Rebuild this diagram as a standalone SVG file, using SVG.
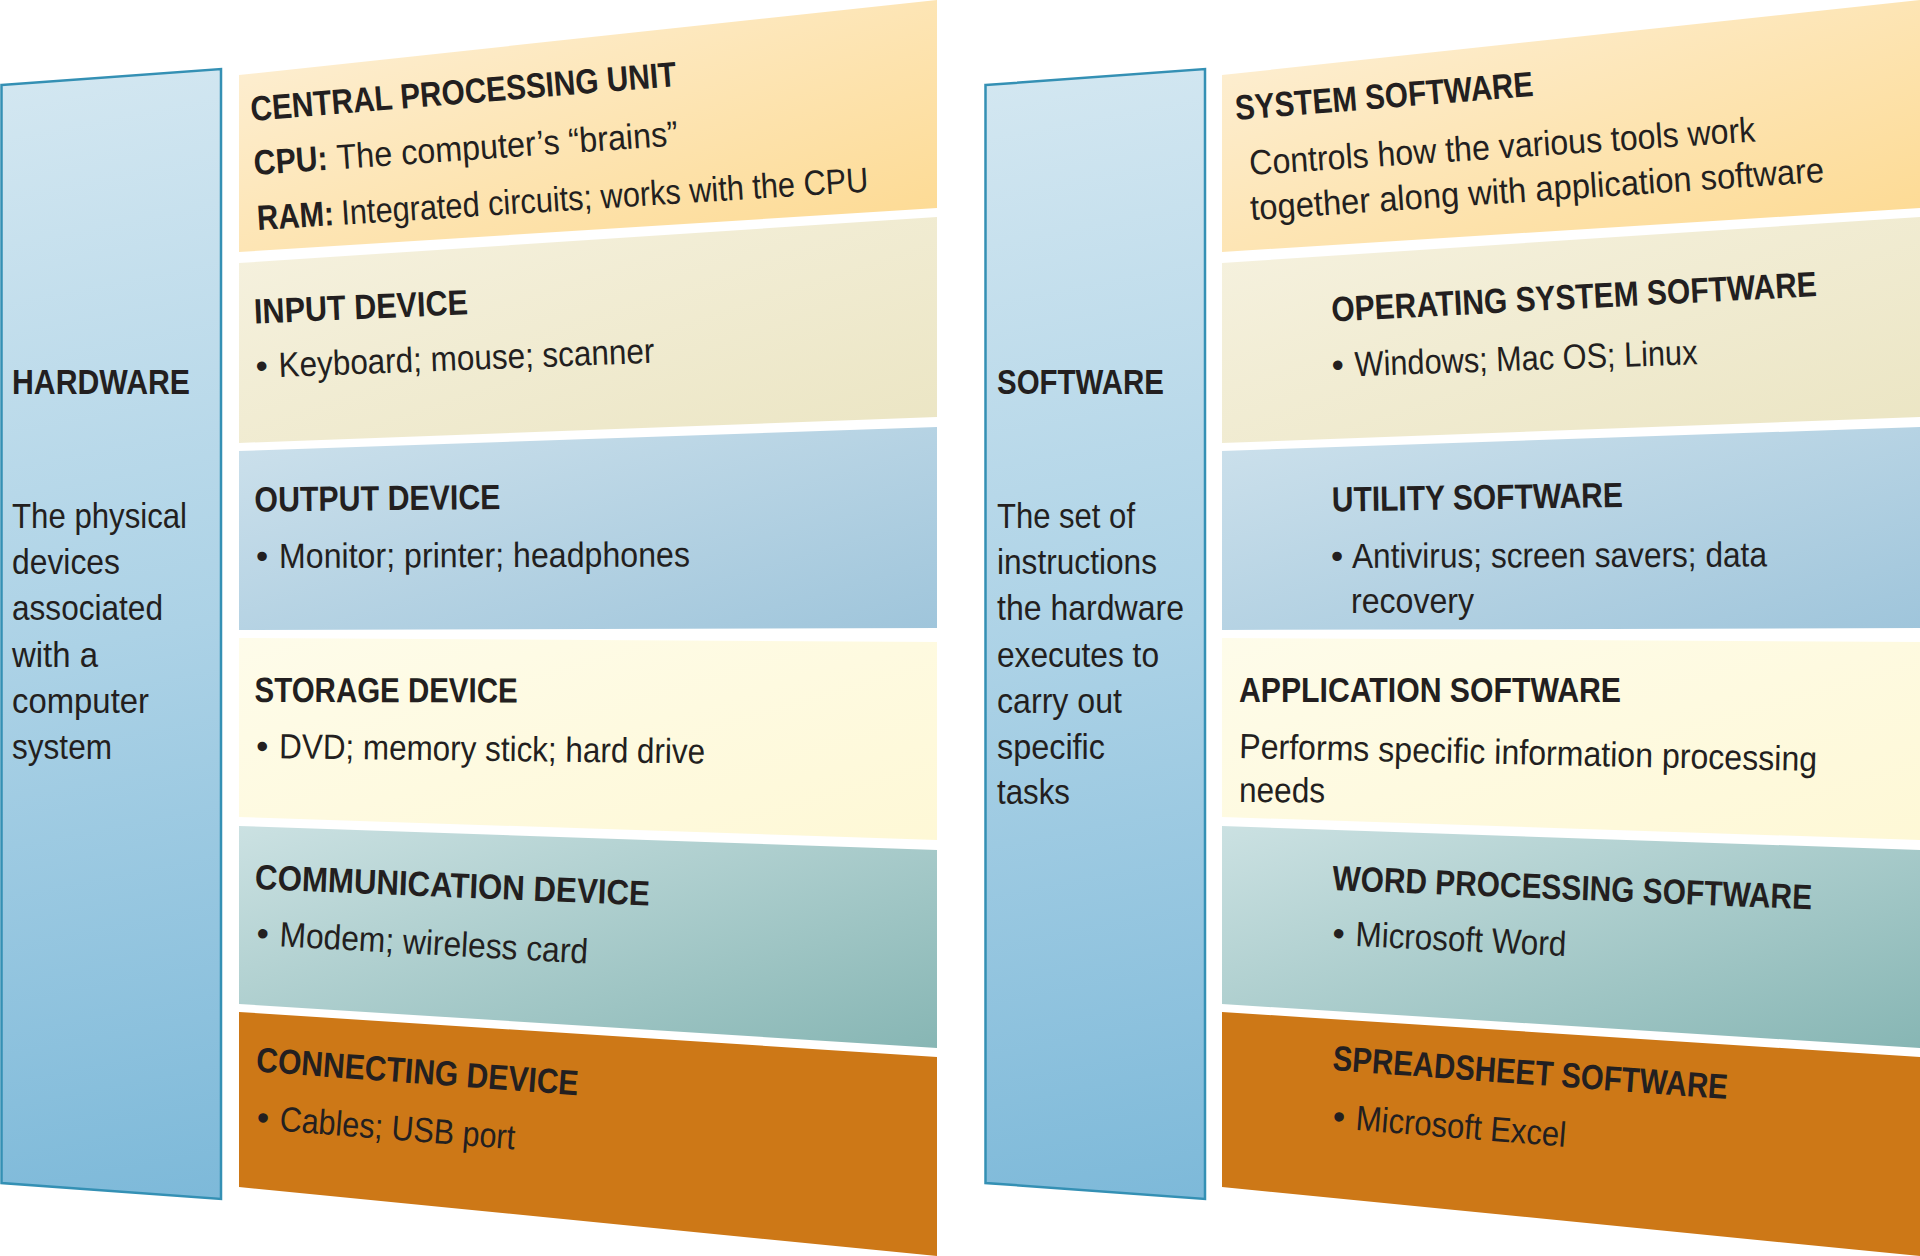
<svg xmlns="http://www.w3.org/2000/svg" width="1920" height="1256" viewBox="0 0 1920 1256">
<defs>
<linearGradient id="gPanel" gradientUnits="userSpaceOnUse" x1="0" y1="80" x2="220" y2="1200">
<stop offset="0" stop-color="#d3e7f1"/>
<stop offset="0.5" stop-color="#acd2e6"/>
<stop offset="1" stop-color="#7db9d9"/>
</linearGradient>
<linearGradient id="gPanel2" gradientUnits="userSpaceOnUse" x1="984" y1="80" x2="1204" y2="1200">
<stop offset="0" stop-color="#d3e7f1"/>
<stop offset="0.5" stop-color="#acd2e6"/>
<stop offset="1" stop-color="#7db9d9"/>
</linearGradient>
<linearGradient id="g1" x1="0" y1="0" x2="1" y2="1">
<stop offset="0" stop-color="#fdf1da"/>
<stop offset="1" stop-color="#fdd98f"/>
</linearGradient>
<linearGradient id="g2" x1="0" y1="0" x2="1" y2="1">
<stop offset="0" stop-color="#f6f2e0"/>
<stop offset="1" stop-color="#ebe5c3"/>
</linearGradient>
<linearGradient id="g3" x1="0" y1="0" x2="1" y2="1">
<stop offset="0" stop-color="#cde1ec"/>
<stop offset="1" stop-color="#9fc5db"/>
</linearGradient>
<linearGradient id="g4" x1="0" y1="0" x2="1" y2="1">
<stop offset="0" stop-color="#fefcea"/>
<stop offset="1" stop-color="#fef8d6"/>
</linearGradient>
<linearGradient id="g5" x1="0" y1="0" x2="1" y2="1">
<stop offset="0" stop-color="#cbe1e2"/>
<stop offset="1" stop-color="#87b6b4"/>
</linearGradient>
</defs>
<style>
text{font-family:"Liberation Sans",Arial,sans-serif;font-size:35px;fill:#231f20}
.h,.b{font-weight:bold}
.panel{stroke:#3490b4;stroke-width:2.5}
.b1{fill:url(#g1)}.b2{fill:url(#g2)}.b3{fill:url(#g3)}.b4{fill:url(#g4)}.b5{fill:url(#g5)}.b6{fill:#cd7817}
</style>
<rect width="1920" height="1256" fill="#ffffff"/>

<!-- LEFT: HARDWARE -->
<g id="hardware">
<polygon class="panel" fill="url(#gPanel)" points="1.5,85 221,69 221,1199 1.5,1183"/>
<text x="12" y="394" class="h" textLength="178" lengthAdjust="spacingAndGlyphs">HARDWARE</text>
<text x="12" y="528" textLength="175" lengthAdjust="spacingAndGlyphs">The physical</text>
<text x="12" y="574" textLength="108" lengthAdjust="spacingAndGlyphs">devices</text>
<text x="12" y="620" textLength="151" lengthAdjust="spacingAndGlyphs">associated</text>
<text x="12" y="667" textLength="86" lengthAdjust="spacingAndGlyphs">with a</text>
<text x="12" y="713" textLength="137" lengthAdjust="spacingAndGlyphs">computer</text>
<text x="12" y="759" textLength="100" lengthAdjust="spacingAndGlyphs">system</text>
</g>

<g id="cpu">
<polygon class="b1" points="239,75 937,0 937,208 239,252"/>
<text transform="translate(251.5,121) rotate(-4.7)" class="h" textLength="427" lengthAdjust="spacingAndGlyphs">CENTRAL PROCESSING UNIT</text>
<text transform="translate(254.6,175) rotate(-4)"><tspan class="b" textLength="74" lengthAdjust="spacingAndGlyphs">CPU:</tspan><tspan x="83" textLength="342" lengthAdjust="spacingAndGlyphs">The computer’s “brains”</tspan></text>
<text transform="translate(257.7,230) rotate(-3.6)"><tspan class="b" textLength="77" lengthAdjust="spacingAndGlyphs">RAM:</tspan><tspan x="84.5" textLength="528" lengthAdjust="spacingAndGlyphs">Integrated circuits; works with the CPU</tspan></text>
</g>

<g id="input">
<polygon class="b2" points="239,263 937,217 937,417 239,443"/>
<text transform="translate(254.6,323.5) rotate(-2.5)" class="h" textLength="214" lengthAdjust="spacingAndGlyphs">INPUT DEVICE</text>
<text transform="translate(256,378) rotate(-2.2)"><tspan>•</tspan><tspan x="23" textLength="376" lengthAdjust="spacingAndGlyphs">Keyboard; mouse; scanner</tspan></text>
</g>

<g id="output">
<polygon class="b3" points="239,451 937,427 937,628 239,630"/>
<text transform="translate(254.6,511.5) rotate(-0.6)" class="h" textLength="246" lengthAdjust="spacingAndGlyphs">OUTPUT DEVICE</text>
<text transform="translate(256,568) rotate(-0.2)"><tspan>•</tspan><tspan x="23" textLength="411" lengthAdjust="spacingAndGlyphs">Monitor; printer; headphones</tspan></text>
</g>

<g id="storage">
<polygon class="b4" points="239,638 937,642 937,840 239,817"/>
<text transform="translate(254.6,702) rotate(0.1)" class="h" textLength="263" lengthAdjust="spacingAndGlyphs">STORAGE DEVICE</text>
<text transform="translate(256,758) rotate(0.7)"><tspan>•</tspan><tspan x="23" textLength="426" lengthAdjust="spacingAndGlyphs">DVD; memory stick; hard drive</tspan></text>
</g>

<g id="communication">
<polygon class="b5" points="239,826 937,850 937,1048 239,1004"/>
<text transform="translate(254.6,889) rotate(2.4)" class="h" textLength="395" lengthAdjust="spacingAndGlyphs">COMMUNICATION DEVICE</text>
<text transform="translate(256,945) rotate(3.2)"><tspan>•</tspan><tspan x="23" textLength="309" lengthAdjust="spacingAndGlyphs">Modem; wireless card</tspan></text>
</g>

<g id="connecting">
<polygon class="b6" points="239,1012 937,1057 937,1256 239,1187"/>
<text transform="translate(255.5,1071.5) rotate(4.2)" class="h" textLength="323" lengthAdjust="spacingAndGlyphs">CONNECTING DEVICE</text>
<text transform="translate(256,1129) rotate(4.5)"><tspan>•</tspan><tspan x="23" textLength="236" lengthAdjust="spacingAndGlyphs">Cables; USB port</tspan></text>
</g>

<!-- RIGHT: SOFTWARE -->
<g id="software">
<polygon class="panel" fill="url(#gPanel2)" points="985.5,85 1205,69 1205,1199 985.5,1183"/>
<text x="997" y="394" class="h" textLength="167" lengthAdjust="spacingAndGlyphs">SOFTWARE</text>
<text x="997" y="528" textLength="138" lengthAdjust="spacingAndGlyphs">The set of</text>
<text x="997" y="574" textLength="160" lengthAdjust="spacingAndGlyphs">instructions</text>
<text x="997" y="620" textLength="187" lengthAdjust="spacingAndGlyphs">the hardware</text>
<text x="997" y="667" textLength="162" lengthAdjust="spacingAndGlyphs">executes to</text>
<text x="997" y="713" textLength="125" lengthAdjust="spacingAndGlyphs">carry out</text>
<text x="997" y="759" textLength="108" lengthAdjust="spacingAndGlyphs">specific</text>
<text x="997" y="804" textLength="73" lengthAdjust="spacingAndGlyphs">tasks</text>
</g>

<g id="system-software">
<polygon class="b1" points="1222,75 1920,0 1920,208 1222,252"/>
<text transform="translate(1236,120) rotate(-4.6)" class="h" textLength="299" lengthAdjust="spacingAndGlyphs">SYSTEM SOFTWARE</text>
<text transform="translate(1250,175) rotate(-3.8)" textLength="507" lengthAdjust="spacingAndGlyphs">Controls how the various tools work</text>
<text transform="translate(1251,220) rotate(-3.8)" textLength="575" lengthAdjust="spacingAndGlyphs">together along with application software</text>
</g>

<g id="operating-system-software">
<polygon class="b2" points="1222,263 1920,217 1920,417 1222,443"/>
<text transform="translate(1332,321.5) rotate(-3)" class="h" textLength="486" lengthAdjust="spacingAndGlyphs">OPERATING SYSTEM SOFTWARE</text>
<text transform="translate(1332,377) rotate(-2)"><tspan>•</tspan><tspan x="23" textLength="343" lengthAdjust="spacingAndGlyphs">Windows; Mac OS; Linux</tspan></text>
</g>

<g id="utility-software">
<polygon class="b3" points="1222,451 1920,427 1920,628 1222,630"/>
<text transform="translate(1332,511.5) rotate(-0.9)" class="h" textLength="291" lengthAdjust="spacingAndGlyphs">UTILITY SOFTWARE</text>
<text transform="translate(1331,568) rotate(-0.2)"><tspan>•</tspan><tspan x="21" textLength="415" lengthAdjust="spacingAndGlyphs">Antivirus; screen savers; data</tspan></text>
<text x="1351" y="613" textLength="123" lengthAdjust="spacingAndGlyphs">recovery</text>
</g>

<g id="application-software">
<polygon class="b4" points="1222,638 1920,642 1920,840 1222,817"/>
<text transform="translate(1239,702) rotate(0)" class="h" textLength="382" lengthAdjust="spacingAndGlyphs">APPLICATION SOFTWARE</text>
<text transform="translate(1239,758) rotate(1.3)" textLength="578" lengthAdjust="spacingAndGlyphs">Performs specific information processing</text>
<text transform="translate(1239,802) rotate(0.3)" textLength="86" lengthAdjust="spacingAndGlyphs">needs</text>
</g>

<g id="word-processing-software">
<polygon class="b5" points="1222,826 1920,850 1920,1048 1222,1004"/>
<text transform="translate(1332,890) rotate(2.3)" class="h" textLength="480" lengthAdjust="spacingAndGlyphs">WORD PROCESSING SOFTWARE</text>
<text transform="translate(1332,945) rotate(2.7)"><tspan>•</tspan><tspan x="23" textLength="211" lengthAdjust="spacingAndGlyphs">Microsoft Word</tspan></text>
</g>

<g id="spreadsheet-software">
<polygon class="b6" points="1222,1012 1920,1057 1920,1256 1222,1187"/>
<text transform="translate(1332,1070) rotate(4.2)" class="h" textLength="396" lengthAdjust="spacingAndGlyphs">SPREADSHEET SOFTWARE</text>
<text transform="translate(1332,1128) rotate(4.6)"><tspan>•</tspan><tspan x="23" textLength="211" lengthAdjust="spacingAndGlyphs">Microsoft Excel</tspan></text>
</g>

<g id="connectors"></g>
</svg>
